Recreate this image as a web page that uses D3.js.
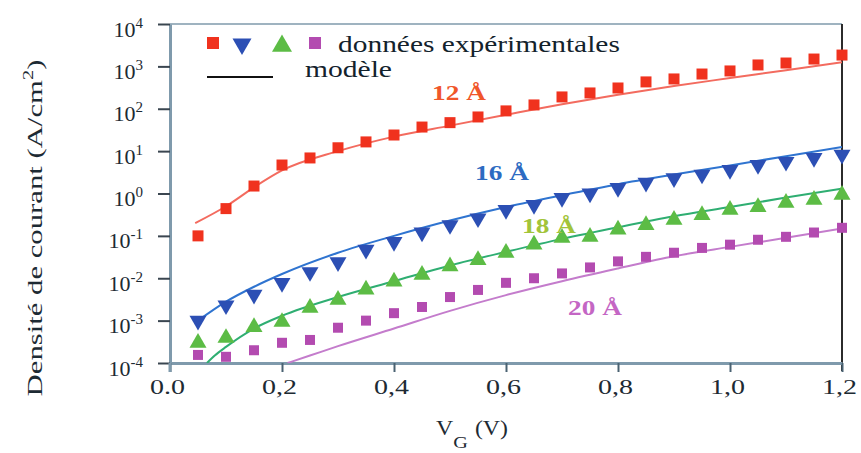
<!DOCTYPE html>
<html>
<head>
<meta charset="utf-8">
<script src="https://cdn.jsdelivr.net/npm/d3@7"></script>
<style>
  html, body { margin: 0; padding: 0; background: #fff; }
  svg { display: block; }
  svg text { font-family: "Times New Roman", "Liberation Serif", Times, serif; }
</style>
</head>
<body>
<svg id="chart" width="861" height="453"></svg>
<script>
// ---------- data ----------
const vG = [0.05, 0.10, 0.15, 0.20, 0.25, 0.30, 0.35, 0.40, 0.45, 0.50, 0.55, 0.60,
            0.65, 0.70, 0.75, 0.80, 0.85, 0.90, 0.95, 1.00, 1.05, 1.10, 1.15, 1.20];
const exp12 = [0.1, 0.44, 1.5, 4.7, 6.9, 12, 16.5, 24, 37, 47, 64, 89,
               123, 190, 236, 309, 430, 505, 660, 780, 1080, 1200, 1490, 1850];
const exp16 = [1.0e-3, 2.3e-3, 4.1e-3, 7.8e-3, 0.014, 0.024, 0.047, 0.072, 0.12, 0.18, 0.26, 0.41,
               0.54, 0.79, 1.0, 1.35, 1.8, 2.3, 2.8, 3.6, 4.7, 5.6, 6.9, 8.2];
const exp18 = [3.0e-4, 3.9e-4, 7e-4, 9.3e-4, 2e-3, 3.1e-3, 5.4e-3, 8.3e-3, 0.012, 0.019, 0.027, 0.04,
               0.062, 0.09, 0.095, 0.14, 0.18, 0.24, 0.31, 0.41, 0.48, 0.6, 0.71, 0.93];
const exp20 = [1.55e-4, 1.4e-4, 2e-4, 3e-4, 3.5e-4, 6.8e-4, 1.0e-3, 1.5e-3, 2.1e-3, 3.6e-3, 5.3e-3, 7.8e-3,
               0.010, 0.013, 0.018, 0.025, 0.032, 0.04, 0.052, 0.062, 0.081, 0.095, 0.12, 0.155];

const mod12x = [0.045, 0.1, 0.15, 0.2, 0.3, 0.4, 0.5, 0.6, 0.7, 0.8, 0.9, 1.0, 1.1, 1.2];
const mod12  = [0.2, 0.5, 1.4, 3.5, 10, 22, 40, 72, 128, 215, 345, 530, 810, 1250];
const mod16x = [0.05, 0.1, 0.15, 0.2, 0.3, 0.4, 0.5, 0.6, 0.7, 0.8, 0.9, 1.0, 1.1, 1.2];
const mod16  = [1.0e-3, 2.8e-3, 6.3e-3, 0.0126, 0.04, 0.1, 0.23, 0.48, 0.91, 1.66, 2.8, 4.6, 7.6, 12.6];
const mod18x = [0.066, 0.08, 0.1, 0.15, 0.2, 0.3, 0.4, 0.5, 0.6, 0.7, 0.8, 0.9, 1.0, 1.1, 1.2];
const mod18  = [1e-4, 1.5e-4, 2.4e-4, 6.5e-4, 1.3e-3, 3.6e-3, 8.5e-3, 0.02, 0.042, 0.085, 0.16, 0.29, 0.48, 0.8, 1.3];
const mod20x = [0.21, 0.25, 0.3, 0.4, 0.5, 0.6, 0.7, 0.8, 0.9, 1.0, 1.1, 1.2];
const mod20  = [1e-4, 1.5e-4, 2.5e-4, 6.5e-4, 1.7e-3, 4e-3, 8.5e-3, 0.017, 0.033, 0.055, 0.09, 0.15];

const xTicks = [0, 0.2, 0.4, 0.6, 0.8, 1.0, 1.2];
const xTickLabels = ["0.0", "0,2", "0,4", "0,6", "0,8", "1,0", "1,2"];
const yTicks = [1e-4, 1e-3, 1e-2, 1e-1, 1e0, 1e1, 1e2, 1e3, 1e4];
const yTickExp = ["-4", "-3", "-2", "-1", "0", "1", "2", "3", "4"];
const seriesNames = ["12 Å", "16 Å", "18 Å", "20 Å"];
const legendLabels = ["données expérimentales", "modèle"];
const xTitle = ["V", "G", "(V)"];
const yTitle = ["Densité de courant (A/cm", "2", ")"];

// ---------- layout ----------
const svg = d3.select("#chart");
const L = 170, R = 842, T = 24, B = 363;
const x = d3.scaleLinear().domain([0, 1.2]).range([L, R]);
const y = d3.scaleLog().domain([1e-4, 1e4]).range([B, T]);

// helper: text horizontally fitted to a target width
function fitText(parent, tx, ty, target, anchor, build, rotate) {
  const g = parent.append("g");
  const t = g.append("text").attr("text-anchor", anchor);
  build(t);
  const w = t.node().getBBox().width;
  const s = w > 0 ? target / w : 1;
  g.attr("transform", `translate(${tx},${ty})` + (rotate ? ` rotate(${rotate})` : "") + ` scale(${s},1)`);
  return t;
}

// frame: top and right borders
svg.append("line").attr("x1", L).attr("x2", R).attr("y1", T).attr("y2", T)
  .attr("stroke", "#9fb3c0").attr("stroke-width", 2);
svg.append("line").attr("x1", R).attr("x2", R).attr("y1", T).attr("y2", B + 8)
  .attr("stroke", "#2b2b2b").attr("stroke-width", 2);

// axes
const yAxis = svg.append("g").attr("transform", `translate(${L},0)`)
  .call(d3.axisLeft(y).tickValues(yTicks).tickSize(12).tickSizeOuter(0).tickFormat(""));
yAxis.select(".domain").attr("stroke", "#7f9aac").attr("stroke-width", 3);
yAxis.selectAll(".tick line").attr("stroke", "#3a4650").attr("stroke-width", 2);
yAxis.selectAll(".tick").each(function(d, i) {
  const t = d3.select(this).append("text")
    .attr("x", -27).attr("y", 12).attr("text-anchor", "end")
    .attr("fill", "#1d2a33").attr("font-size", 22);
  t.append("tspan").text("10");
  t.append("tspan").attr("font-size", 15).attr("dy", -9).text(yTickExp[i]);
});

const xAxis = svg.append("g").attr("transform", `translate(0,${B})`)
  .call(d3.axisBottom(x).tickValues(xTicks).tickSize(9).tickSizeOuter(0).tickFormat(""));
xAxis.select(".domain").attr("stroke", "#7f9aac").attr("stroke-width", 3);
xAxis.selectAll(".tick line").attr("stroke", "#4a6272").attr("stroke-width", 2);
xAxis.selectAll(".tick").each(function(d, i) {
  const tick = d3.select(this);
  fitText(tick, -3, 31, 35, "middle", t => t.attr("font-size", 22).attr("fill", "#1d2a33").text(xTickLabels[i]));
});
// extend y axis line below x axis (0.0 tick)
svg.append("line").attr("x1", L).attr("x2", L).attr("y1", B).attr("y2", B + 9)
  .attr("stroke", "#7f9aac").attr("stroke-width", 3);

// axis titles
fitText(svg, 472, 435, 72, "middle", t => {
  t.attr("font-size", 20).attr("fill", "#1d2a33");
  t.append("tspan").text(xTitle[0]);
  t.append("tspan").attr("font-size", 17).attr("dy", 13).text(xTitle[1]);
  t.append("tspan").attr("dy", -13).attr("dx", 6).text(xTitle[2]);
});
fitText(svg, 42, 228, 337, "middle", t => {
  t.attr("font-size", 21).attr("fill", "#1d2a33");
  t.append("tspan").text(yTitle[0]);
  t.append("tspan").attr("font-size", 14).attr("dy", -9).text(yTitle[1]);
  t.append("tspan").attr("dy", 9).text(yTitle[2]);
}, -90);

// clip
svg.append("clipPath").attr("id", "clip").append("rect")
  .attr("x", L).attr("y", T).attr("width", R - L).attr("height", B - T);

const plot = svg.append("g").attr("clip-path", "url(#clip)");

// model lines
const line = d3.line().x(d => x(d[0])).y(d => y(d[1])).curve(d3.curveMonotoneX);
const models = [
  { xs: mod12x, ys: mod12, color: "#f36b5f" },
  { xs: mod16x, ys: mod16, color: "#2f74d0" },
  { xs: mod18x, ys: mod18, color: "#2fae72" },
  { xs: mod20x, ys: mod20, color: "#c47ccc" }
];
models.forEach(m => {
  plot.append("path").datum(m.xs.map((v, i) => [v, m.ys[i]]))
    .attr("d", line).attr("fill", "none").attr("stroke", m.color).attr("stroke-width", 2);
});

// experimental markers
const sq = (s) => d3.symbol().type(d3.symbolSquare).size(s * s);
const tri = (side) => d3.symbol().type(d3.symbolTriangle).size(side * side * Math.sqrt(3) / 4);
const expSeries = [
  { ys: exp12, color: "#f0321e", sym: sq(11), rot: 0 },
  { ys: exp16, color: "#2c4fb4", sym: tri(17), rot: 180 },
  { ys: exp18, color: "#5cbc45", sym: tri(17), rot: 0 },
  { ys: exp20, color: "#b34bb0", sym: sq(10), rot: 0 }
];
expSeries.forEach(s => {
  svg.append("g").selectAll("path").data(vG.map((v, i) => [v, s.ys[i]])).join("path")
    .attr("d", s.sym)
    .attr("transform", d => `translate(${x(d[0])},${y(d[1])}) rotate(${s.rot})`)
    .attr("fill", s.color);
});

// series labels
const labelSpecs = [
  { x: 459, y: 100, color: "#f0562a" },
  { x: 502, y: 180, color: "#2d6bc2" },
  { x: 549, y: 233, color: "#a2c43a" },
  { x: 595, y: 315, color: "#c466c4" }
];
labelSpecs.forEach((l, i) => {
  fitText(svg, l.x, l.y, 55, "middle", t => t.attr("font-size", 21).attr("font-weight", "bold")
    .attr("fill", l.color).text(seriesNames[i]));
});

// legend
const leg = svg.append("g");
leg.append("path").attr("d", sq(12)).attr("transform", "translate(213,43)").attr("fill", "#f0321e");
leg.append("path").attr("d", tri(19)).attr("transform", "translate(242,44) rotate(180)").attr("fill", "#2c4fb4");
leg.append("path").attr("d", tri(20)).attr("transform", "translate(282,46)").attr("fill", "#5cbc45");
leg.append("path").attr("d", sq(12)).attr("transform", "translate(315,43)").attr("fill", "#b34bb0");
leg.append("line").attr("x1", 207).attr("x2", 273).attr("y1", 77).attr("y2", 77)
  .attr("stroke", "#111").attr("stroke-width", 2);
fitText(leg, 338, 52, 282, "start", t => t.attr("font-size", 24).attr("fill", "#13222c").text(legendLabels[0]));
fitText(leg, 305, 77, 87, "start", t => t.attr("font-size", 24).attr("fill", "#13222c").text(legendLabels[1]));
</script>
</body>
</html>
